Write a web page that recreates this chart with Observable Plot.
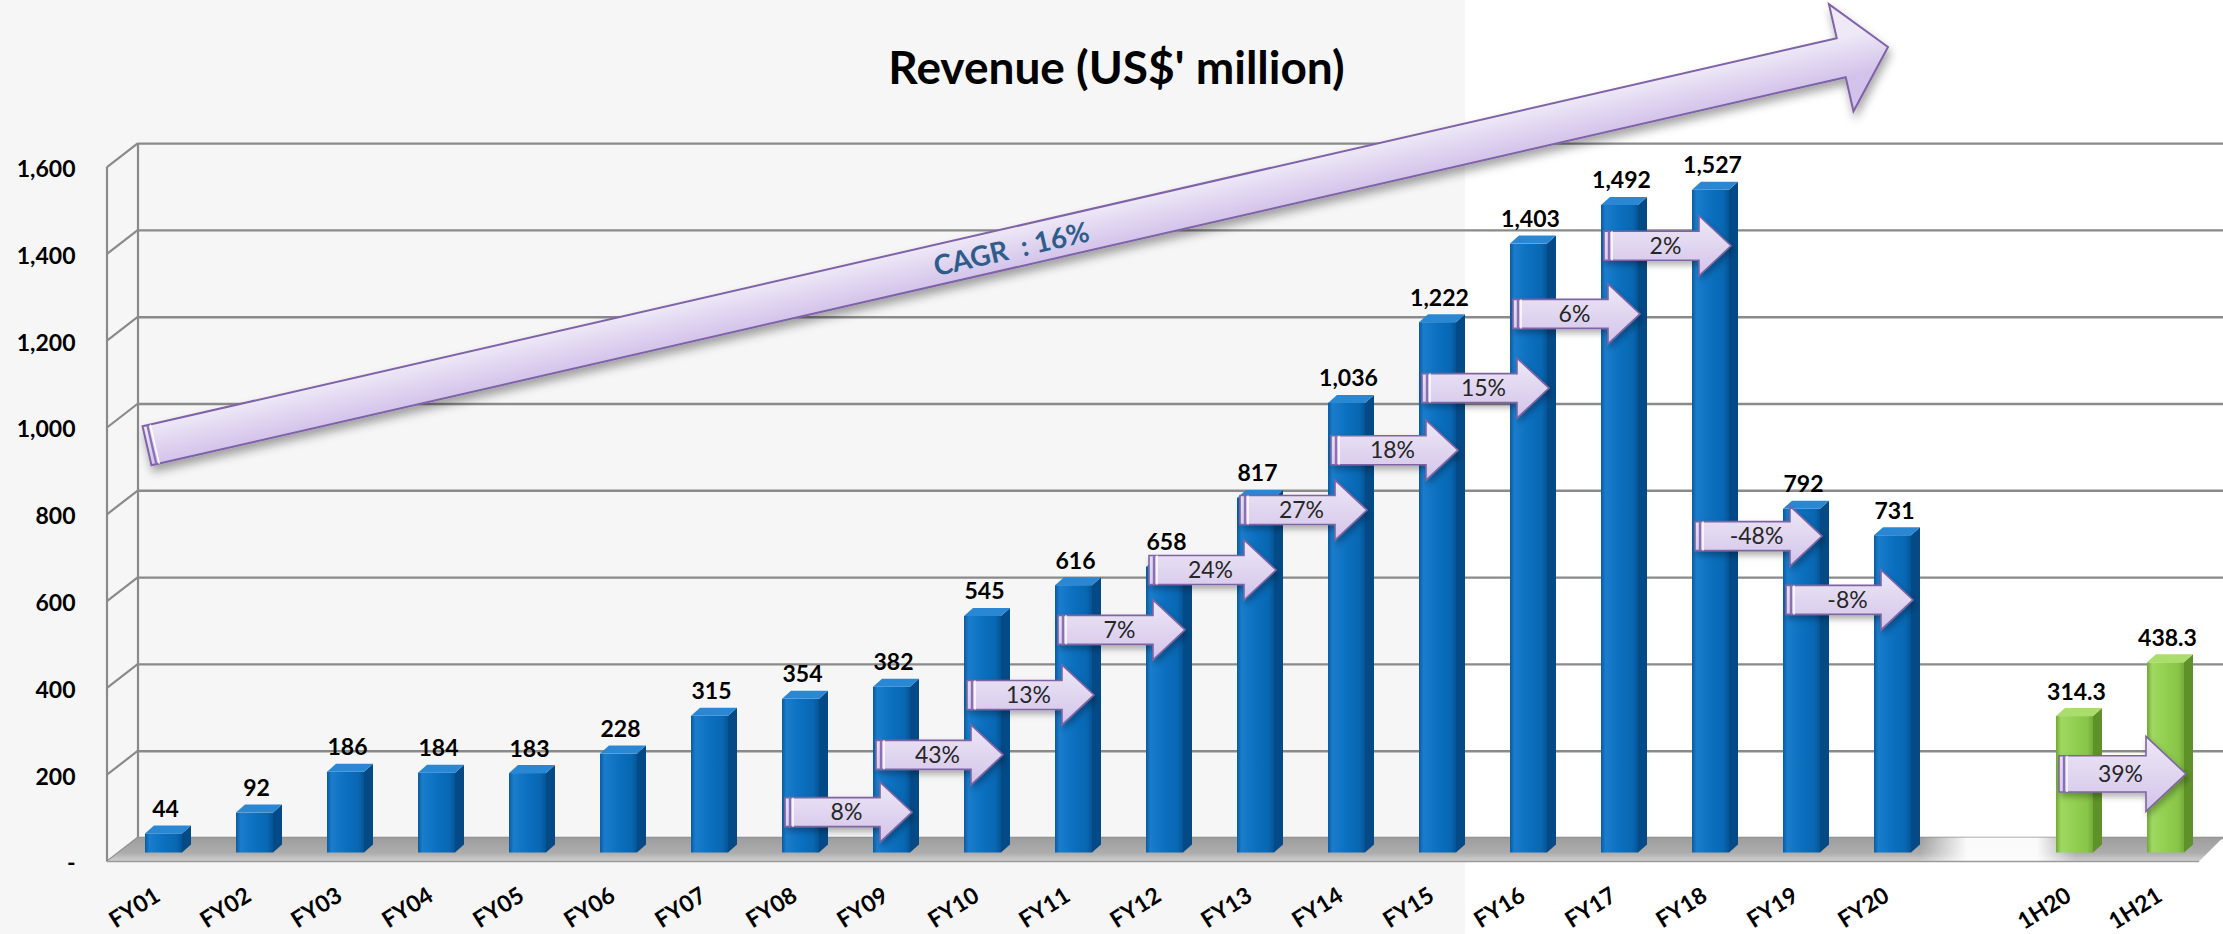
<!DOCTYPE html>
<html>
<head>
<meta charset="utf-8">
<script src="https://cdn.jsdelivr.net/npm/d3@7"></script>
<script src="https://cdn.jsdelivr.net/npm/@observablehq/plot@0.6"></script>
<style>
  html, body { margin: 0; padding: 0; }
  body {
    width: 2223px; height: 934px; overflow: hidden;
    background: linear-gradient(to right, #f6f6f6 0px, #f6f6f6 1465px, #ffffff 1465px, #ffffff 100%);
  }
  #chart svg { display: block; }
</style>
</head>
<body>
<div id="chart"></div>
<script>
// ---------------- data ----------------
const title = "Revenue (US$' million)";
const fyCategories = ["FY01","FY02","FY03","FY04","FY05","FY06","FY07","FY08","FY09","FY10",
                      "FY11","FY12","FY13","FY14","FY15","FY16","FY17","FY18","FY19","FY20"];
const fyRevenue = [44, 92, 186, 184, 183, 228, 315, 354, 382, 545,
                   616, 658, 817, 1036, 1222, 1403, 1492, 1527, 792, 731];
const halfCategories = ["1H20", "1H21"];
const halfRevenue = [314.3, 438.3];

const yTicks = [0, 200, 400, 600, 800, 1000, 1200, 1400, 1600];
const yTickLabels = ["-", "200", "400", "600", "800", "1,000", "1,200", "1,400", "1,600"];

const growthFrom   = ["FY08","FY09","FY10","FY11","FY12","FY13","FY14","FY15","FY16","FY17","FY18","FY19","1H20"];
const growthTo     = ["FY09","FY10","FY11","FY12","FY13","FY14","FY15","FY16","FY17","FY18","FY19","FY20","1H21"];
const growthLabels = ["8%","43%","13%","7%","24%","27%","18%","15%","6%","2%","-48%","-8%","39%"];
const growthLevel  = [93, 225, 363, 513, 651, 789, 927, 1070, 1241, 1398, 729, 582, 181];

const cagrLabel = "CAGR\u00a0 : 16%";
const cagrFrom = "FY01", cagrFromLevel = 937;
const cagrTo = "FY20", cagrToLevel = 1856;

// ---------------- layout / style ----------------
const W = 2223, H = 934;
const GAP = "\u2009gap";
const domain = [...fyCategories, GAP, ...halfCategories];
const BAR_SIDE = 9, BAR_TOP = 8;
const BACK = [15, -15], FRONT = [-16, 9];
const FONT = "Lato, 'Open Sans', 'DejaVu Sans', sans-serif";
const LABEL_ANGLE = -32;

const bars = [
  ...fyCategories.map((c, i) => ({cat: c, value: fyRevenue[i], label: d3.format(",")(fyRevenue[i]), kind: "fy"})),
  ...halfCategories.map((c, i) => ({cat: c, value: halfRevenue[i], label: d3.format(".1f")(halfRevenue[i]), kind: "half"}))
];
const growth = growthFrom.map((f, i) => ({
  from: f, to: growthTo[i], label: growthLabels[i], level: growthLevel[i], half: halfCategories.includes(f)
}));
const xLabels = domain.filter(d => d !== GAP);

function layer(draw) {
  return Plot.frame({
    stroke: "none", fill: "none",
    render: (index, scales, values, dims) => {
      const g = d3.create("svg:g");
      draw(g, scales, dims);
      return g.node();
    }
  });
}
const bwOf = (sx) => typeof sx.bandwidth === "function" ? sx.bandwidth() : sx.bandwidth;
const cxOf = (sx, c) => sx(c) + bwOf(sx) / 2;
const pts = (arr) => arr.map(p => p.join(",")).join(" ");

function drawDefs(g) {
  const defs = g.append("defs");
  const lin = (id, stops, attrs) => {
    const lg = defs.append("linearGradient").attr("id", id);
    Object.entries(attrs).forEach(([k, v]) => lg.attr(k, v));
    stops.forEach(([o, c, op]) => lg.append("stop").attr("offset", o).attr("stop-color", c).attr("stop-opacity", op ?? 1));
  };
  lin("blueFront", [[0, "#0a5aa0"], [0.12, "#1a7dcc"], [0.5, "#0b70c0"], [0.85, "#0867b2"], [1, "#065496"]], {x1: 0, y1: 0, x2: 1, y2: 0});
  lin("greenFront", [[0, "#70a836"], [0.14, "#a0d862"], [0.5, "#92d050"], [0.85, "#88c448"], [1, "#74ab3a"]], {x1: 0, y1: 0, x2: 1, y2: 0});
  lin("floorGrad", [[0, "#9d9d9d"], [0.65, "#adadad"], [1, "#d2d2d2"]], {x1: 0, y1: 0, x2: 0, y2: 1});
  lin("arrowGrad", [[0, "#eee8f6"], [1, "#d3c4ea"]], {x1: 0, y1: 0, x2: 0, y2: 1});
  const f = defs.append("filter").attr("id", "bigShadow").attr("x", "-5%").attr("y", "-20%").attr("width", "115%").attr("height", "160%");
  f.append("feDropShadow").attr("dx", 2).attr("dy", 6).attr("stdDeviation", 5).attr("flood-color", "#000").attr("flood-opacity", 0.35);
  const f2 = defs.append("filter").attr("id", "smallShadow").attr("x", "-10%").attr("y", "-20%").attr("width", "130%").attr("height", "160%");
  f2.append("feDropShadow").attr("dx", 2).attr("dy", 4).attr("stdDeviation", 3).attr("flood-color", "#000").attr("flood-opacity", 0.3);
}

function drawWalls(g, s, dims) {
  const L = dims.marginLeft;
  const y0 = s.y(yTicks[0]), yT = s.y(yTicks[yTicks.length - 1]);
  const line = (x1, y1, x2, y2) => g.append("line").attr("x1", x1).attr("y1", y1).attr("x2", x2).attr("y2", y2)
    .attr("stroke", "#8a8a8a").attr("stroke-width", 2.2);
  line(L + BACK[0], y0 + BACK[1], L + BACK[0], yT + BACK[1]);
  line(L + FRONT[0], y0 + FRONT[1], L + FRONT[0], yT + FRONT[1]);
  yTicks.forEach(t => line(L + FRONT[0], s.y(t) + FRONT[1], L + BACK[0], s.y(t) + BACK[1]));
}

function drawFloor(g, s, dims) {
  const L = dims.marginLeft, y0 = s.y(0);
  const poly = [[L + FRONT[0], y0 + FRONT[1]], [L + BACK[0], y0 + BACK[1]], [dims.width, y0 + BACK[1]], [dims.width - 24, y0 + FRONT[1]]];
  g.append("polygon").attr("points", pts(poly)).attr("fill", "url(#floorGrad)");
  const bw = bwOf(s.x);
  const a = s.x(fyCategories[fyCategories.length - 1]) + bw, b = s.x(halfCategories[0]);
  const lg = g.append("defs").append("linearGradient").attr("id", "floorShine").attr("gradientUnits", "userSpaceOnUse")
    .attr("x1", a).attr("x2", b + 20).attr("y1", 0).attr("y2", 0);
  [[0, 0], [0.3, 0.95], [0.75, 0.95], [1, 0]].forEach(([o, op]) => lg.append("stop").attr("offset", o).attr("stop-color", "#fff").attr("stop-opacity", op));
  g.append("polygon").attr("points", pts(poly)).attr("fill", "url(#floorShine)");
  g.append("line").attr("x1", poly[0][0]).attr("y1", poly[0][1]).attr("x2", poly[3][0]).attr("y2", poly[3][1])
    .attr("stroke", "#9a9a9a").attr("stroke-width", 1.5);
}

function drawCagr(g, s) {
  const S = [cxOf(s.x, cagrFrom) - 21, s.y(cagrFromLevel)];
  const T = [cxOf(s.x, cagrTo) - 9, s.y(cagrToLevel)];
  const dx = T[0] - S[0], dy = T[1] - S[1], len = Math.hypot(dx, dy);
  const u = [dx / len, dy / len], n = [-u[1], u[0]];
  const hw = 20, hh = 55, hl = 48;
  const Hb = [T[0] - u[0] * hl, T[1] - u[1] * hl];
  const P = (p, k) => [p[0] + n[0] * k, p[1] + n[1] * k];
  const A = (p, k) => [p[0] + u[0] * k, p[1] + u[1] * k];
  const lg = g.append("defs").append("linearGradient").attr("id", "cagrGrad").attr("gradientUnits", "userSpaceOnUse");
  const g1 = P(S, -hw), g2 = P(S, hw);
  lg.attr("x1", g1[0]).attr("y1", g1[1]).attr("x2", g2[0]).attr("y2", g2[1]);
  [[0, "#eee8f7"], [1, "#d3c3ea"]].forEach(([o, c]) => lg.append("stop").attr("offset", o).attr("stop-color", c));
  const poly = [P(S, -hw), P(Hb, -hw), P(Hb, -hh), T, P(Hb, hh), P(Hb, hw), P(S, hw)];
  g.append("polygon").attr("points", pts(poly)).attr("fill", "url(#cagrGrad)")
    .attr("stroke", "#7f62a8").attr("stroke-width", 2).attr("stroke-linejoin", "miter").attr("filter", "url(#bigShadow)");
  [[5, "#8a6fb5", 2.2], [8, "#ffffff", 1.4]].forEach(([k, c, w]) => {
    const p1 = P(A(S, k), -hw), p2 = P(A(S, k), hw);
    g.append("line").attr("x1", p1[0]).attr("y1", p1[1]).attr("x2", p2[0]).attr("y2", p2[1]).attr("stroke", c).attr("stroke-width", w);
  });
  const M = A(S, (len - hl) * 0.51);
  const ang = Math.atan2(dy, dx) * 180 / Math.PI;
  g.append("text").attr("transform", `translate(${M[0]},${M[1]}) rotate(${ang})`)
    .attr("text-anchor", "middle").attr("dominant-baseline", "central")
    .attr("font-family", FONT).attr("font-size", 28).attr("font-weight", 700).attr("fill", "#2e5d8c")
    .text(cagrLabel);
}

function drawBars(g, s) {
  const bw = bwOf(s.x), fw = bw - BAR_SIDE, yb = s.y(0);
  const col = {
    fy: {front: "url(#blueFront)", side: "#044a86", top: "#2a87d4"},
    half: {front: "url(#greenFront)", side: "#5f9129", top: "#abdd6c"}
  };
  bars.forEach(d => {
    const x0 = s.x(d.cat), yv = s.y(d.value), c = col[d.kind];
    g.append("polygon").attr("points", pts([[x0 + fw, yv], [x0 + bw, yv - BAR_TOP], [x0 + bw, yb - BAR_TOP], [x0 + fw, yb]])).attr("fill", c.side);
    g.append("rect").attr("x", x0).attr("y", yv).attr("width", fw).attr("height", yb - yv).attr("fill", c.front);
    g.append("polygon").attr("points", pts([[x0, yv], [x0 + BAR_SIDE, yv - BAR_TOP], [x0 + bw, yv - BAR_TOP], [x0 + fw, yv]])).attr("fill", c.top);
  });
}

function drawGrowth(g, s) {
  growth.forEach(d => {
    const k = d.half ? 1.25 : 1;
    const x0 = cxOf(s.x, d.from) - 20, x1 = cxOf(s.x, d.to) + 16, cy = s.y(d.level);
    const bh = 14.5 * k, hh = 30 * k, hl = 32 * k;
    const poly = [[x0, cy - bh], [x1 - hl, cy - bh], [x1 - hl, cy - hh], [x1, cy], [x1 - hl, cy + hh], [x1 - hl, cy + bh], [x0, cy + bh]];
    g.append("polygon").attr("points", pts(poly)).attr("fill", "url(#arrowGrad)")
      .attr("stroke", "#8064a2").attr("stroke-width", 1.6).attr("filter", "url(#smallShadow)");
    g.append("line").attr("x1", x0 + 5).attr("x2", x0 + 5).attr("y1", cy - bh).attr("y2", cy + bh).attr("stroke", "#8a6fb5").attr("stroke-width", 2.4);
    g.append("line").attr("x1", x0 + 8).attr("x2", x0 + 8).attr("y1", cy - bh).attr("y2", cy + bh).attr("stroke", "#ffffff").attr("stroke-width", 1.4);
  });
}

// slanted category labels: real text laid along a slanted invisible path
function drawXLabels(g, s) {
  const y0 = s.y(0);
  const a = LABEL_ANGLE * Math.PI / 180, L = 90;
  const defs = g.append("defs");
  xLabels.forEach((c, i) => {
    const ex = cxOf(s.x, c) - 10, ey = y0 + 41;   // end of the label (its upper right)
    const sx = ex - L * Math.cos(a), sy = ey - L * Math.sin(a);
    const id = "xlabelPath" + i;
    defs.append("path").attr("id", id).attr("d", `M${sx},${sy}L${ex},${ey}`);
    g.append("text")
      .attr("font-family", FONT).attr("font-size", 23).attr("font-weight", 700).attr("fill", "#000")
      .attr("dy", "0.32em")
      .append("textPath")
      .attr("href", "#" + id)
      .attr("startOffset", "100%")
      .attr("text-anchor", "end")
      .text(c);
  });
}

const chart = Plot.plot({
  width: W, height: H,
  marginLeft: 123, marginRight: 8, marginTop: 158.1, marginBottom: 81.5,
  style: {background: "transparent", fontFamily: FONT, overflow: "visible"},
  x: {type: "band", domain, paddingInner: 0.4945, paddingOuter: 0.2418, align: 0.5, round: false, axis: null},
  y: {type: "linear", domain: [0, 1600], axis: null},
  marks: [
    layer(drawDefs),
    Plot.ruleY(yTicks, {y: d => d, dx: BACK[0], dy: BACK[1], stroke: "#8a8a8a", strokeWidth: 2.4}),
    layer(drawWalls),
    layer(drawFloor),
    layer(drawCagr),
    layer(drawBars),
    layer(drawGrowth),
    Plot.text(bars, {x: "cat", y: "value", text: "label", dx: -3, dy: -17, lineAnchor: "bottom",
                     fontSize: 23, fontWeight: 700, fill: "#000"}),
    Plot.text(growth, {x: "from", y: "level", text: "label", dx: 41, lineAnchor: "middle",
                       fontSize: 23, fill: "#262626"}),
    Plot.text(yTicks, {frameAnchor: "left", y: d => d, text: (d, i) => yTickLabels[i], dx: -48, dy: 11,
                       textAnchor: "end", lineAnchor: "middle", fontSize: 23, fontWeight: 700, fill: "#000"}),
    layer(drawXLabels),
    Plot.text([title], {frameAnchor: "top", text: d => d, dx: -53, dy: -75, lineAnchor: "bottom",
                        fontSize: 46, fontWeight: 700, fill: "#000"})
  ]
});
document.getElementById("chart").appendChild(chart);
</script>
</body>
</html>
